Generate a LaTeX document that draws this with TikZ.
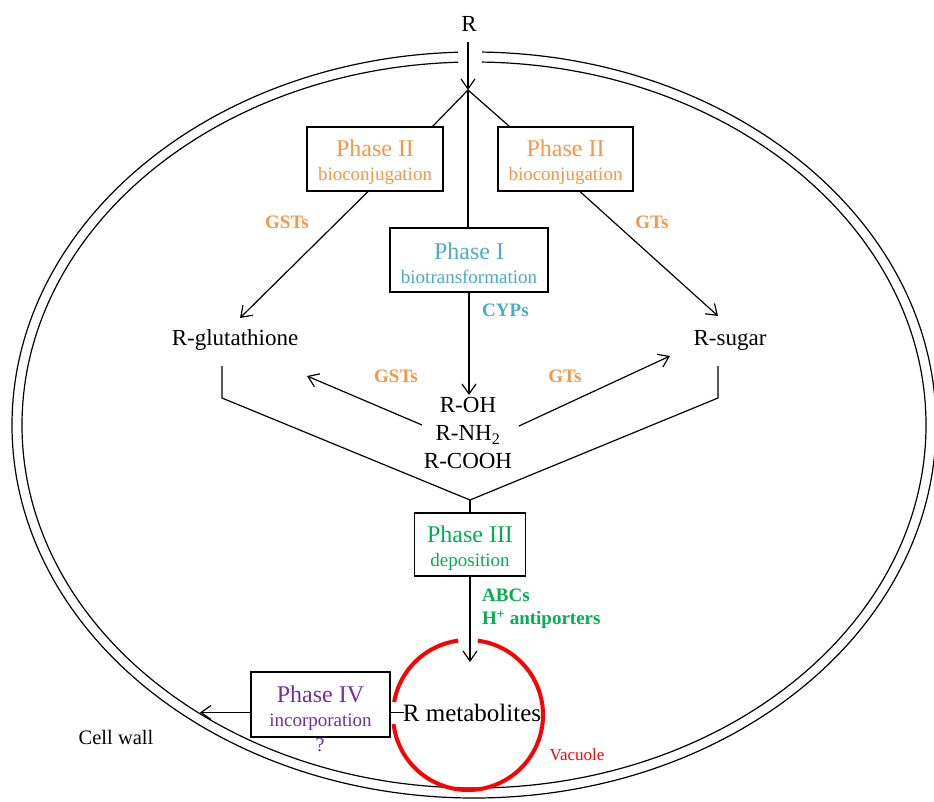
\documentclass[tikz,border=0pt]{standalone}
\usepackage{fontspec}
\setmainfont{Liberation Serif}
\usetikzlibrary{arrows.meta,calc}
\definecolor{orng}{HTML}{F79646}
\definecolor{aqua}{HTML}{4BACC6}
\definecolor{grn}{HTML}{00B050}
\definecolor{purp}{HTML}{7030A0}
\definecolor{vred}{HTML}{FF0000}
\newcommand{\phz}[2]{{\fontsize{24}{24}\selectfont\rule{0pt}{24pt}#1}\\#2}
\begin{document}
\begin{tikzpicture}[x=1pt,y=-1pt,
  box/.style={draw=black,line width=1.2pt,inner sep=0pt,align=center,font=\fontsize{19}{24}\selectfont},
  txt/.style={inner sep=0pt,align=center,font=\fontsize{23}{28}\selectfont},
  lab/.style={inner sep=0pt,align=left,font=\fontsize{19}{23}\selectfont\bfseries},
  conn/.style={line width=1.2pt},
  arr/.style={conn,-{Straight Barb[length=10pt,width=14pt]}},
  wall/.style={line width=1.2pt},
  vacl/.style={draw=vred,line width=4pt}]
\useasboundingbox (0,0) rectangle (934,801);
\fill[white] (0,0) rectangle (934,801);
% cell wall (double ellipse with a gap at the top)
\coordinate (ec) at (474,425);
\draw[wall] ($(ec)+(271:462 and 373)$) arc[start angle=271,end angle=628,x radius=462,y radius=373];
\draw[wall] ($(ec)+(271:452 and 363)$) arc[start angle=271,end angle=628,x radius=452,y radius=363];
% top
\node[txt] (R) at (469,24) {R};
\coordinate (rin) at (468,42);
\coordinate (J) at (468,90);
\draw[arr] (rin) -- (J);
% boxes
\node[box,text=orng,minimum width=136pt,minimum height=64pt] (p2l) at (375,159) {\phz{Phase II}{bioconjugation}};
\node[box,text=orng,minimum width=135pt,minimum height=64pt] (p2r) at (565.5,159) {\phz{Phase II}{bioconjugation}};
\node[box,text=aqua,minimum width=158pt,minimum height=64pt] (p1) at (469,260) {\phz{Phase I}{biotransformation}};
\node[box,text=grn,minimum width=111pt,minimum height=63pt] (p3) at (470,544.5) {\phz{Phase III}{deposition}};
\node[box,text=purp,minimum width=139pt,minimum height=65pt] (p4) at (320.5,704.5) {\phz{Phase IV}{incorporation}};
% compounds
\node[txt] (rglu) at (235,340) {R-glutathione};
\node[txt] (rsug) at (730,340) {R-sugar};
\node[txt] (ohs) at (468,433) {R-OH\\R-NH\textsubscript{2}\\R-COOH};
\coordinate (ohtop) at (468,395);
% enzyme labels
\node[lab,text=orng] (gst1) at (287,222) {GSTs};
\node[lab,text=orng] (gt1) at (652,222) {GTs};
\node[lab,text=aqua,anchor=west] (cyp) at (482,310) {CYPs};
\node[lab,text=orng] (gst2) at (396,376) {GSTs};
\node[lab,text=orng] (gt2) at (565,376) {GTs};
\node[lab,text=grn,anchor=west] (abc) at (482,608.5) {ABCs\\H\textsuperscript{+} antiporters};
% connectors from top
\draw[conn] (J) -- ($(p2l.north east)+(-11,0)$);
\draw[conn] (J) -- ($(p2r.north west)+(12,0)$);
\draw[conn] (J) -- (J |- p1.north);
\draw[arr] ($(p2l.south)+(-7,0)$) -- ($(rglu)+(5,-22)$);
\draw[arr] ($(p2r.south)+(14.5,0)$) -- ($(rsug)+(-12,-24)$);
\draw[arr] (p1.south) -- (p1.south |- ohtop);
\draw[arr] ($(ohs)+(-46,-8)$) -- ($(rglu)+(72,36)$);
\draw[arr] ($(ohs)+(51,-7)$) -- ($(rsug)+(-60,16)$);
% bracket to phase III
\coordinate (M) at (470,500);
\draw[conn] ($(rglu)+(-13,26)$) -- ++(0,32) -- (M);
\draw[conn] ($(rsug)+(-12,26)$) -- ++(0,32) -- (M);
\draw[conn] (M) -- (M |- p3.north);
% vacuole
\coordinate (vc) at (468,715);
\coordinate (tipv) at (468,662);
\draw[vacl] ($(vc)+(277.5:75)$) arc[start angle=277.5,end angle=533,radius=75];
\draw[vacl] ($(vc)+(190:75)$) arc[start angle=190,end angle=262.5,radius=75];
\draw[arr] (p3.south) -- (p3.south |- tipv);
\node[inner sep=0pt,font=\fontsize{25}{25}\selectfont] (rmet) at (472,713) {R metabolites};
\node[inner sep=0pt,text=vred,font=\fontsize{17}{17}\selectfont] (vacu) at (577,755) {Vacuole};
% phase IV
\coordinate (cw) at (200,712.5);
\draw[conn] ($(p4.east)+(0,8)$) -- ++(13,0);
\draw[arr] ($(p4.west)+(0,8)$) -- (cw);
\node[inner sep=0pt,text=purp,font=\fontsize{20}{20}\selectfont] (q) at (320,745) {?};
\node[inner sep=0pt,font=\fontsize{20.5}{20.5}\selectfont] (cwall) at (116,737) {Cell wall};
\end{tikzpicture}
\end{document}
